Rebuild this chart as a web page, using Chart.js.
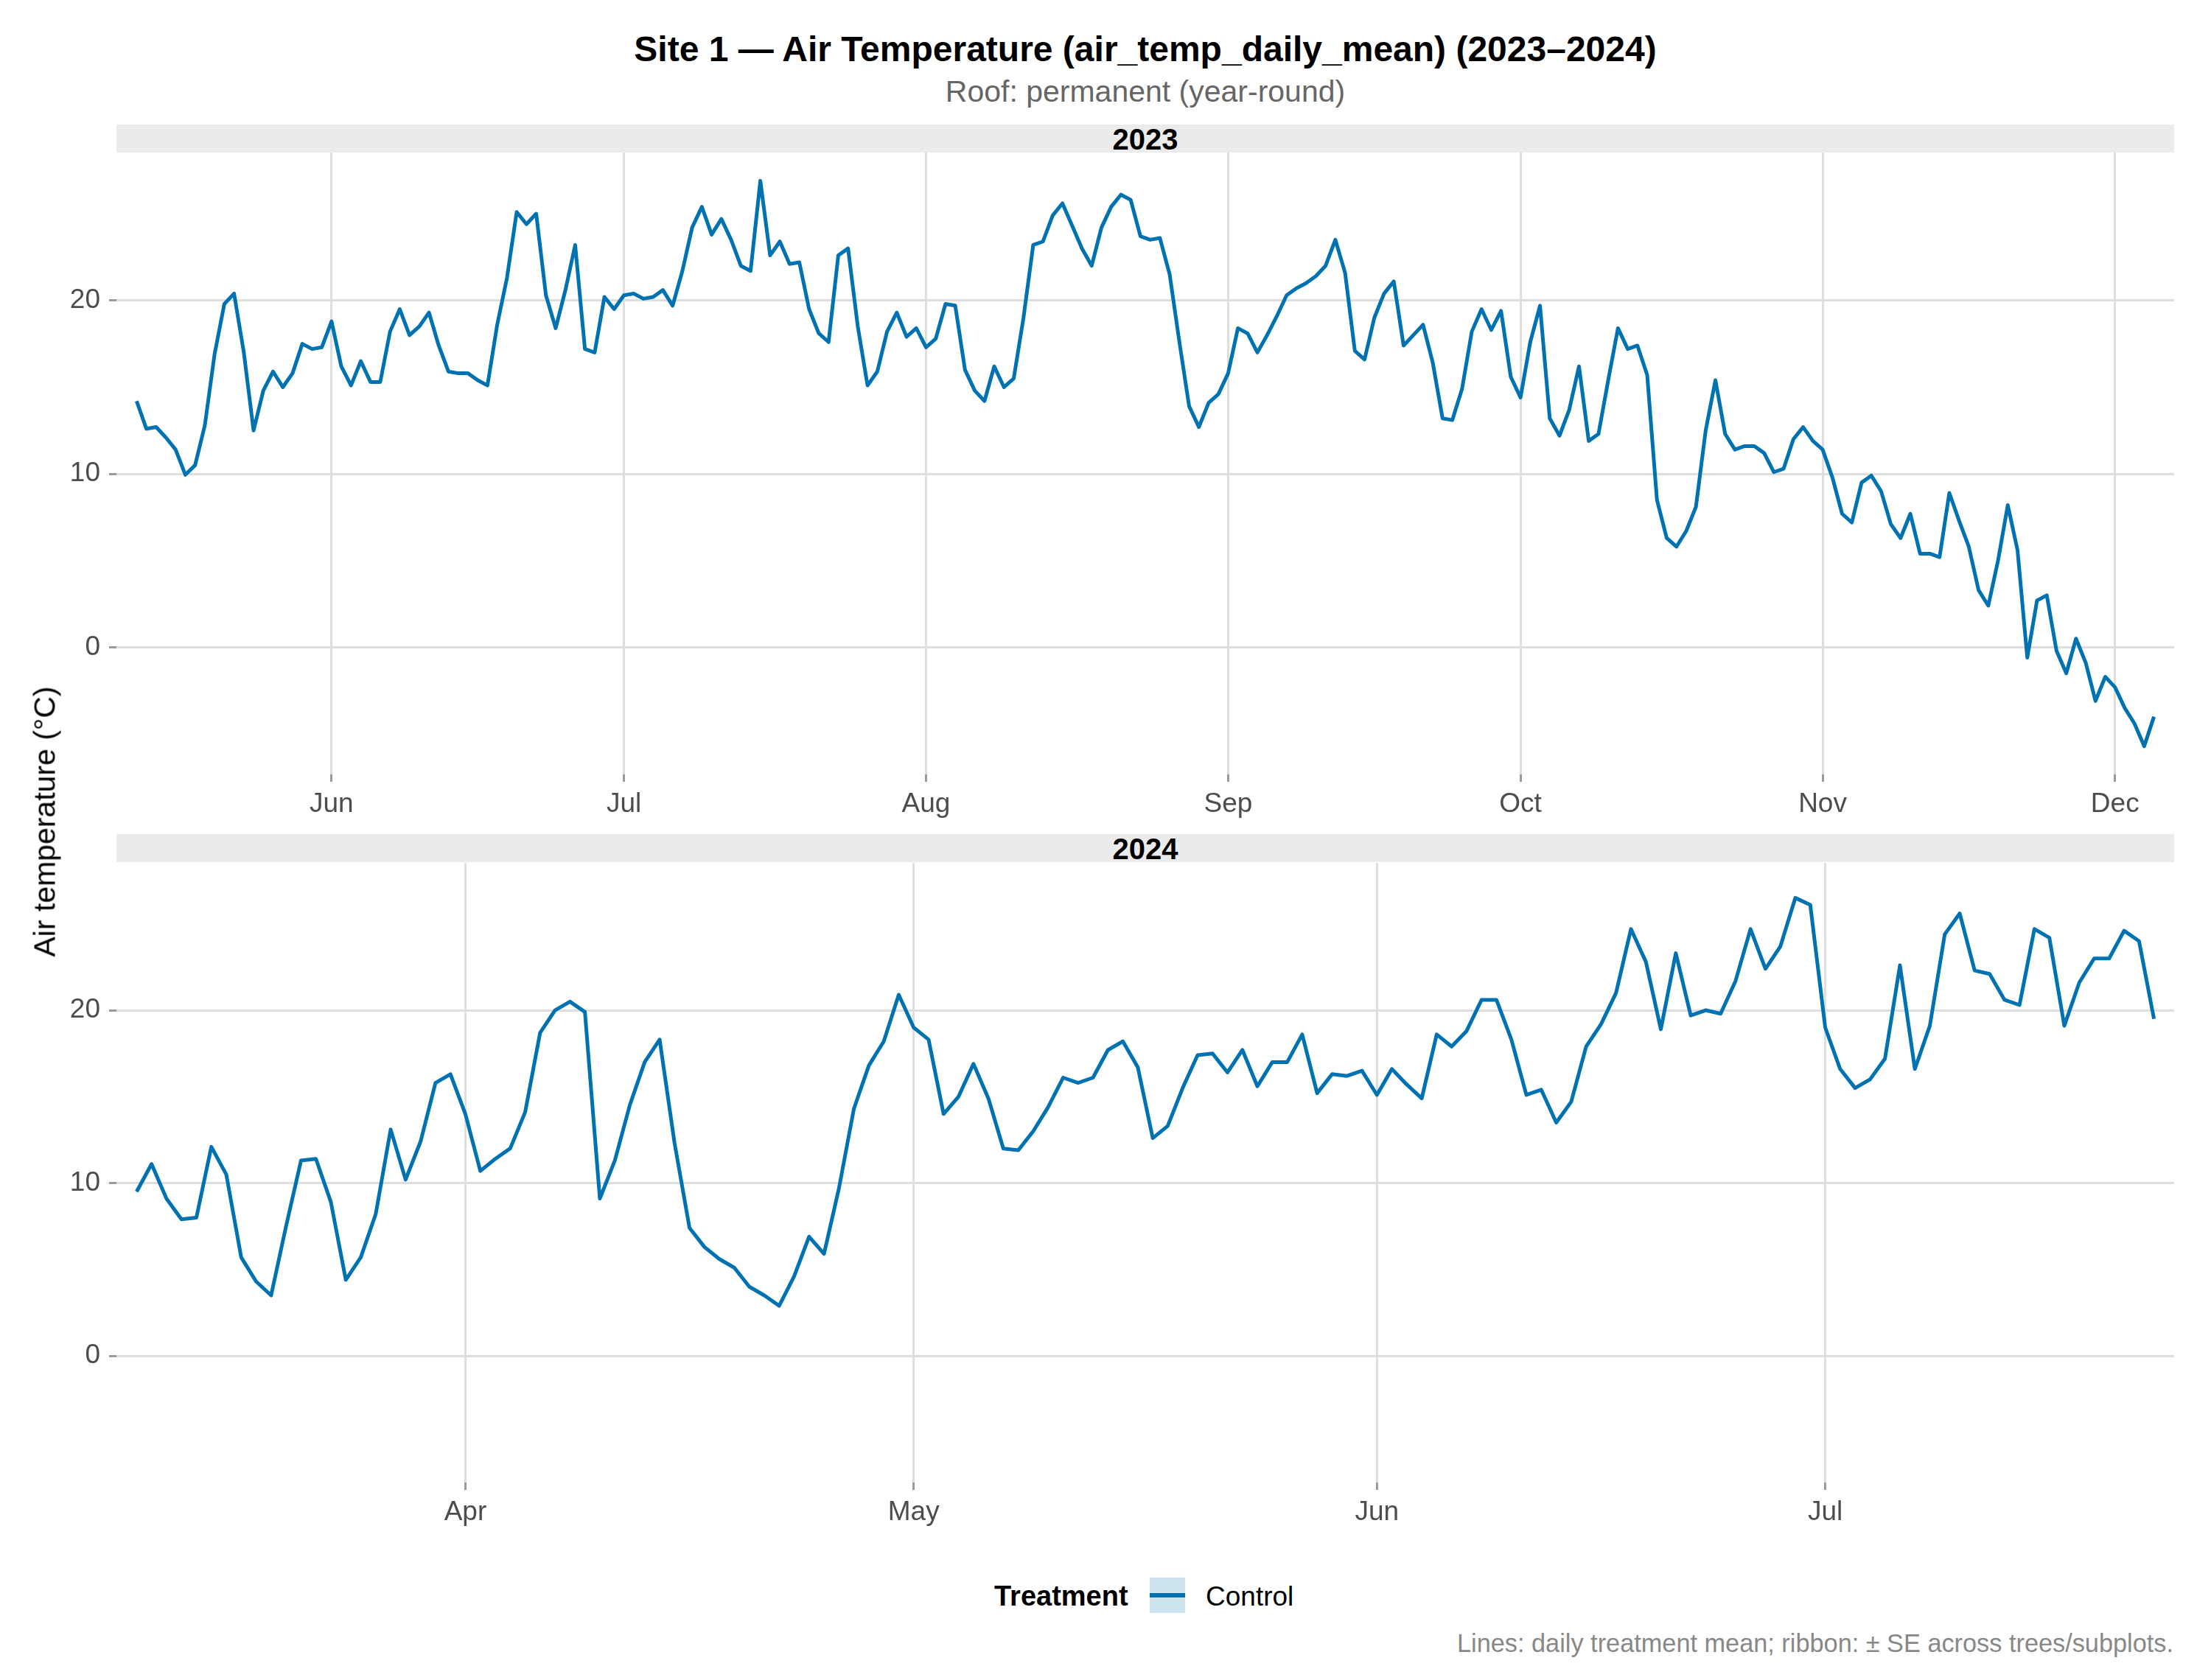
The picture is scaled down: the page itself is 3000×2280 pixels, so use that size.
<!DOCTYPE html>
<html>
<head>
<meta charset="utf-8">
<script src="https://cdn.jsdelivr.net/npm/chart.js@4.4.1/dist/chart.umd.min.js"></script>
<style>
html,body{margin:0;padding:0;background:#ffffff;}
body{width:3000px;height:2280px;position:relative;overflow:hidden;font-family:"Liberation Sans",Arial,Helvetica,sans-serif;}
.t{position:absolute;white-space:nowrap;line-height:1;}
.c{transform:translate(-50%,-50%);}
.strip{position:absolute;left:158px;width:2792px;height:38px;background:#EBEBEB;}
canvas{position:absolute;left:0;}
</style>
</head>
<body>
<div class="t c" style="left:1554px;top:67px;font-size:48px;font-weight:bold;color:#000;">Site 1 — Air Temperature (air_temp_daily_mean) (2023–2024)</div>
<div class="t c" style="left:1554px;top:124px;font-size:41px;color:#666666;">Roof: permanent (year-round)</div>

<div class="strip" style="top:169px;"></div>
<div class="t c" style="left:1554px;top:189px;font-size:40px;font-weight:bold;color:#000;">2023</div>
<div class="strip" style="top:1132px;"></div>
<div class="t c" style="left:1554px;top:1152px;font-size:40px;font-weight:bold;color:#000;">2024</div>

<canvas id="c2023" width="3000" height="954" style="top:167px;width:3000px;height:954px;"></canvas>
<canvas id="c2024" width="3000" height="951" style="top:1131px;width:3000px;height:951px;"></canvas>

<div class="t c" style="left:61px;top:1115px;font-size:41px;color:#000;transform:translate(-50%,-50%) rotate(-90deg);">Air temperature (°C)</div>

<div class="t" style="left:1349px;top:2166px;font-size:38px;font-weight:bold;color:#000;transform:translateY(-50%);">Treatment</div>
<div style="position:absolute;left:1560px;top:2141px;width:48px;height:48px;background:#CCE3F0;"></div>
<div style="position:absolute;left:1560px;top:2162px;width:48px;height:6px;background:#0072B2;"></div>
<div class="t" style="left:1636px;top:2166px;font-size:37px;color:#000;transform:translateY(-50%);">Control</div>

<div class="t" style="right:51px;top:2230px;font-size:34.3px;color:#888888;transform:translateY(-50%);">Lines: daily treatment mean; ribbon: ± SE across trees/subplots.</div>

<script>
// ---------------- data ----------------
const start2023 = '2023-05-12';
const values2023 = [
 14.2, 12.6, 12.7, 12.1, 11.4, 9.95, 10.5, 12.8, 16.9, 19.8,
 20.4, 17.0, 12.5, 14.8, 15.9, 15.0, 15.8, 17.5, 17.2, 17.3,
 18.8, 16.2, 15.1, 16.5, 15.3, 15.3, 18.2, 19.5, 18.0, 18.5,
 19.3, 17.4, 15.9, 15.8, 15.8, 15.4, 15.1, 18.6, 21.3, 25.1,
 24.4, 25.0, 20.3, 18.4, 20.6, 23.2, 17.2, 17.0, 20.2, 19.5,
 20.3, 20.4, 20.1, 20.2, 20.6, 19.7, 21.7, 24.2, 25.4, 23.8,
 24.7, 23.5, 22.0, 21.7, 26.9, 22.6, 23.4, 22.1, 22.2, 19.5,
 18.1, 17.6, 22.6, 23.0, 18.5, 15.1, 15.9, 18.2, 19.3, 17.9,
 18.4, 17.3, 17.8, 19.8, 19.7, 16.0, 14.8, 14.2, 16.2, 15.0,
 15.5, 19.0, 23.2, 23.4, 24.9, 25.6, 24.3, 23.0, 22.0, 24.2,
 25.4, 26.1, 25.8, 23.7, 23.5, 23.6, 21.5, 17.6, 13.9, 12.7,
 14.1, 14.6, 15.8, 18.4, 18.1, 17.0, 18.0, 19.1, 20.3, 20.7,
 21.0, 21.4, 22.0, 23.5, 21.6, 17.1, 16.6, 19.0, 20.4, 21.1,
 17.4, 18.0, 18.6, 16.4, 13.2, 13.1, 14.9, 18.2, 19.5, 18.3,
 19.4, 15.6, 14.4, 17.6, 19.7, 13.2, 12.2, 13.7, 16.2, 11.9,
 12.3, 15.4, 18.4, 17.2, 17.4, 15.7, 8.5, 6.3, 5.8, 6.7,
 8.1, 12.5, 15.4, 12.3, 11.4, 11.6, 11.6, 11.2, 10.1, 10.3,
 12.0, 12.7, 11.9, 11.4, 9.8, 7.7, 7.2, 9.5, 9.9, 9.0,
 7.1, 6.3, 7.7, 5.4, 5.4, 5.2, 8.9, 7.3, 5.8, 3.3,
 2.4, 5.0, 8.2, 5.6, -0.6, 2.7, 3.0, -0.2, -1.5, 0.5,
 -0.9, -3.1, -1.7, -2.3, -3.5, -4.4, -5.7, -4.0
];
const start2024 = '2024-03-10';
const values2024 = [
 9.5, 11.1, 9.1, 7.9, 8.0, 12.1, 10.5, 5.7, 4.3, 3.5,
 7.5, 11.3, 11.4, 8.9, 4.4, 5.7, 8.2, 13.1, 10.2, 12.4,
 15.8, 16.3, 14.0, 10.7, 11.4, 12.0, 14.1, 18.7, 20.0, 20.5,
 19.9, 9.1, 11.3, 14.5, 17.0, 18.3, 12.3, 7.4, 6.3, 5.6,
 5.1, 4.0, 3.5, 2.9, 4.6, 6.9, 5.9, 9.7, 14.3, 16.8,
 18.2, 20.9, 19.0, 18.3, 14.0, 15.0, 16.9, 14.9, 12.0, 11.9,
 13.0, 14.4, 16.1, 15.8, 16.1, 17.7, 18.2, 16.7, 12.6, 13.3,
 15.5, 17.4, 17.5, 16.4, 17.7, 15.6, 17.0, 17.0, 18.6, 15.2,
 16.3, 16.2, 16.5, 15.1, 16.6, 15.7, 14.9, 18.6, 17.9, 18.8,
 20.6, 20.6, 18.3, 15.1, 15.4, 13.5, 14.7, 17.9, 19.2, 21.0,
 24.7, 22.8, 18.9, 23.3, 19.7, 20.0, 19.8, 21.7, 24.7, 22.4,
 23.7, 26.5, 26.1, 19.0, 16.6, 15.5, 16.0, 17.2, 22.6, 16.6,
 19.1, 24.4, 25.6, 22.3, 22.1, 20.6, 20.3, 24.7, 24.2, 19.1,
 21.6, 23.0, 23.0, 24.6, 24.0, 19.5
];
const monthTicks2023 = ['2023-06-01','2023-07-01','2023-08-01','2023-09-01','2023-10-01','2023-11-01','2023-12-01'];
const monthLabels2023 = ['Jun','Jul','Aug','Sep','Oct','Nov','Dec'];
const monthTicks2024 = ['2024-04-01','2024-05-01','2024-06-01','2024-07-01'];
const monthLabels2024 = ['Apr','May','Jun','Jul'];
const yTickValues = [0, 10, 20];
const seriesName = 'Control';
const lineColor = '#0072B2';

// ---------------- helpers ----------------
function doy(s){
  const d = new Date(s + 'T00:00:00Z');
  return Math.round((d.getTime() - Date.UTC(d.getUTCFullYear(),0,1)) / 86400000);
}
const allVals = values2023.concat(values2024);
const yMinData = Math.min.apply(null, allVals), yMaxData = Math.max.apply(null, allVals);
const yPad = (yMaxData - yMinData) * 0.05;

Chart.defaults.font.family = '"Liberation Sans", Arial, Helvetica, sans-serif';

function makeChart(id, start, values, tickDates, tickLabels){
  const s = doy(start);
  const pts = values.map((v,i) => ({x: s + i, y: v}));
  const xMin = s, xMax = s + values.length - 1;
  const xPad = (xMax - xMin) * 0.01;
  const tickVals = tickDates.map(doy);
  const labelMap = {};
  tickVals.forEach((v,i) => { labelMap[v] = tickLabels[i]; });
  return new Chart(document.getElementById(id), {
    type: 'line',
    data: { datasets: [{
      label: seriesName,
      data: pts,
      borderColor: lineColor,
      backgroundColor: lineColor,
      borderWidth: 5,
      pointRadius: 0,
      tension: 0,
      borderJoinStyle: 'round',
      borderCapStyle: 'butt',
      fill: false
    }]},
    options: {
      responsive: false,
      animation: false,
      devicePixelRatio: 1,
      layout: { padding: { top: 40, right: 50, left: 0, bottom: 0 } },
      plugins: { legend: { display: false }, tooltip: { enabled: false }, title: { display: false } },
      scales: {
        x: {
          type: 'linear',
          min: xMin - xPad,
          max: xMax + xPad,
          afterBuildTicks: (sc) => { sc.ticks = tickVals.map(v => ({value: v})); },
          afterFit: (sc) => { sc.height = 70; },
          border: { display: false },
          grid: { color: '#DEDEDE', lineWidth: 3, drawTicks: true, tickLength: 10, tickColor: '#9A9A9A', tickWidth: 3 },
          ticks: {
            autoSkip: false, maxRotation: 0, padding: 9,
            font: { size: 37 }, color: '#4D4D4D',
            callback: (v) => labelMap[v] || ''
          }
        },
        y: {
          type: 'linear',
          min: yMinData - yPad,
          max: yMaxData + yPad,
          afterBuildTicks: (sc) => { sc.ticks = yTickValues.map(v => ({value: v})); },
          afterFit: (sc) => { sc.width = 158; },
          border: { display: false },
          grid: { color: '#DEDEDE', lineWidth: 3, drawTicks: true, tickLength: 10, tickColor: '#9A9A9A', tickWidth: 3 },
          ticks: { padding: 12, font: { size: 37 }, color: '#4D4D4D', callback: (v) => String(v) }
        }
      }
    }
  });
}

makeChart('c2023', start2023, values2023, monthTicks2023, monthLabels2023);
makeChart('c2024', start2024, values2024, monthTicks2024, monthLabels2024);
</script>
</body>
</html>
